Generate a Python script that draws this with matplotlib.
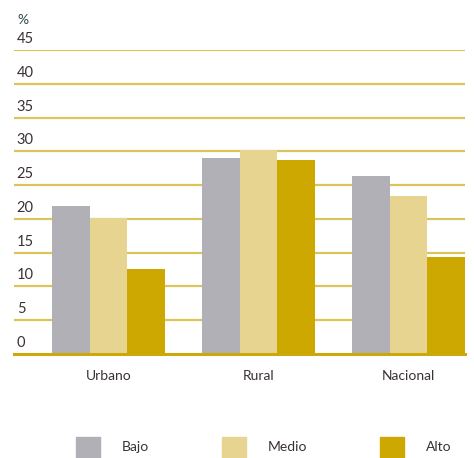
import matplotlib.pyplot as plt
import matplotlib.transforms as mtransforms
from matplotlib.patches import Rectangle
import numpy as np

categories = ["Urbano", "Rural", "Nacional"]
series = ["Bajo", "Medio", "Alto"]
bajo = [21.9, 29.0, 26.3]
medio = [20.2, 30.2, 23.4]
alto = [12.6, 28.7, 14.3]
yticks = [0, 5, 10, 15, 20, 25, 30, 35, 40, 45]

colors = ["#b1b0b6", "#e7d491", "#cca800"]
grid_color = "#dcc35a"
text_color = "#3a3232"

plt.rcParams["font.family"] = ["Lato", "DejaVu Sans"]

fig = plt.figure(figsize=(4.74, 4.58), dpi=100)
W, H = 474, 458
ax = fig.add_axes([14 / W, 1 - 354 / H, (465 - 14) / W, (354 - 50) / H])

x = np.arange(len(categories))
width = 0.25
for i, (vals, c) in enumerate(zip([bajo, medio, alto], colors)):
    ax.bar(x + (i - 1) * width, vals, width=width, color=c, zorder=2)

ax.set_xlim(-0.63, 2.377)
ax.set_ylim(0, 45)

for v in yticks:
    if v == 0:
        ax.axhline(v, color="#cba90a", lw=2.2, zorder=3, clip_on=False)
    else:
        ax.axhline(v, color=grid_color, lw=1.6, zorder=1)

trans = mtransforms.blended_transform_factory(ax.transAxes, ax.transData)
trans = mtransforms.offset_copy(trans, fig=fig, x=0, y=7, units="dots")
for v in yticks:
    ax.text(0.006, v, str(v), transform=trans, ha="left", va="baseline",
            fontsize=10.5, color=text_color)

fig.text(17 / W, 1 - 20 / H, "%", ha="left", va="center", fontsize=10,
         color="#2a4848")

for xi, cat in zip(x, categories):
    ax.text(xi, -3.2, cat, ha="center", va="center", fontsize=10,
            color=text_color, clip_on=False)

ax.set_xticks([])
ax.set_yticks([])
for s in ax.spines.values():
    s.set_visible(False)

# legend
sq_x = [76, 222, 380]
lab_x = [122, 268, 426]
for sx, lx, name, c in zip(sq_x, lab_x, series, colors):
    fig.patches.append(Rectangle((sx / W, 1 - 458 / H), 24 / W, 21 / H,
                                 transform=fig.transFigure, color=c))
    fig.text(lx / W, 1 - 447 / H, name, ha="left", va="center", fontsize=10,
             color=text_color)

fig.savefig("out.png", dpi=100)
plt.close(fig)
